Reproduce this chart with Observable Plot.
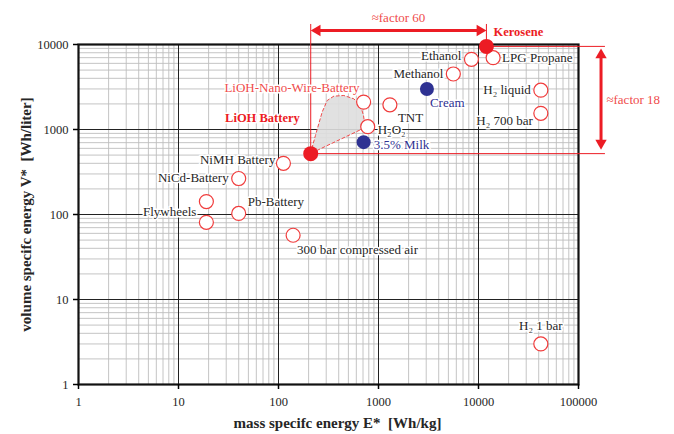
<!DOCTYPE html>
<html>
<head>
<meta charset="utf-8">
<script src="https://cdn.jsdelivr.net/npm/d3@7"></script>
<script src="https://cdn.jsdelivr.net/npm/@observablehq/plot@0.6"></script>
<style>
  html, body { margin: 0; padding: 0; background: white; }
</style>
</head>
<body>
<div id="chart"></div>
<script>
// ---- data ----
const names = ["Kerosene", "LPG Propane", "Ethanol", "Methanol", "Cream", "H₂ liquid", "H₂ 700 bar", "TNT",
  "LiOH-Nano-Wire-Battery", "H₂O₂", "3.5% Milk", "LiOH Battery", "NiMH Battery", "NiCd-Battery",
  "Pb-Battery", "Flywheels", "Flywheels-2", "300 bar compressed air", "H₂ 1 bar"];
const massEnergy = [12000, 14000, 8500, 5600, 3050, 42000, 42000, 1300, 710, 780, 710, 210, 112, 40, 40, 19, 19, 140, 42000];
const volumeEnergy = [9500, 7000, 6700, 4500, 3000, 2900, 1550, 1950, 2100, 1080, 710, 520, 400, 265, 103, 142, 81, 57, 3];
const kinds = ["red", "open", "open", "open", "blue", "open", "open", "open", "open", "open", "blue", "red",
  "open", "open", "open", "open", "open", "open", "open"];
const labels = ["Kerosene", "LPG Propane", "Ethanol", "Methanol", "Cream", "H₂ liquid", "H₂ 700 bar", "TNT",
  "LiOH-Nano-Wire-Battery", "H₂O₂", "3.5% Milk", "LiOH Battery", "NiMH Battery", "NiCd-Battery",
  "Pb-Battery", "Flywheels", null, "300 bar compressed air", "H₂ 1 bar"];

// envelope of LiOH battery region (E, V)
const regionE = [209, 234, 273, 307, 357, 450, 566, 661, 708, 724, 692];
const regionV = [522, 850, 1599, 2194, 2466, 2512, 2297, 1916, 1461, 1209, 1019];

const xTicks = [1, 10, 100, 1000, 10000, 100000];
const yTicks = [1, 10, 100, 1000, 10000];

// ---- layout of labels (anchor, dx, dy, style) ----
const labelLayout = {
  "Kerosene": ["start", 7, -14, "bold"],
  "LPG Propane": ["start", 9, 0],
  "Ethanol": ["end", -10, -3],
  "Methanol": ["end", -10, 0],
  "Cream": ["start", 3, 14, "blue"],
  "H₂ liquid": ["end", -10, 0],
  "H₂ 700 bar": ["end", -8, 8],
  "TNT": ["start", 8, 13],
  "LiOH-Nano-Wire-Battery": ["end", -4, -14, "lightred"],
  "H₂O₂": ["start", 10, 3],
  "3.5% Milk": ["start", 10, 3, "blue"],
  "LiOH Battery": ["end", -11, -36, "bold"],
  "NiMH Battery": ["end", -8, -3],
  "NiCd-Battery": ["end", -10, -1],
  "Pb-Battery": ["start", 9, -12],
  "Flywheels": ["end", -10, 10],
  "300 bar compressed air": ["start", 4, 15],
  "H₂ 1 bar": ["middle", 0, -18]
};

const RED = "#ec1c24", LRED = "#ef4b4b", NAVY = "#2e3192", INK = "#262626";

const rows = names.map((n, i) => ({name: n, E: massEnergy[i], V: volumeEnergy[i], kind: kinds[i], label: labels[i]}));
const region = regionE.map((e, i) => ({E: e, V: regionV[i]}));
const kero = rows.find(d => d.name === "Kerosene");
const lioh = rows.find(d => d.name === "LiOH Battery");

// grid values
const minor = (decades) => decades.flatMap(d => [2,3,4,5,6,7,8,9].map(k => d * k));
const xMinor = minor([1, 10, 100, 1000, 10000]);
const yMinor = minor([1, 10, 100, 1000]);

// annotation anchors (data space)
const topArrowV = 14600, topLineV = 17200, factor60V = 20800;
const rightLineE = 186000, rightArrowE = 168000, factor18E = 190000, factor18V = 2250;
const ahR = 4.2, ahOff = 2 * 0.7776 * ahR;

const labelMarks = rows.filter(d => d.label).map(d => {
  const [anchor, dx, dy, style] = labelLayout[d.label];
  const color = style === "bold" ? RED : style === "blue" ? NAVY : style === "lightred" ? LRED : INK;
  return Plot.text([d], {
    x: "E", y: "V", text: "label", textAnchor: anchor, dx, dy,
    fill: color, fontWeight: style === "bold" ? "bold" : "normal",
    fontSize: style === "bold" ? 12.5 : 13, stroke: "white", strokeWidth: 3, paintOrder: "stroke"
  });
});

const chart = Plot.plot({
  width: 674,
  height: 434,
  marginLeft: 78,
  marginRight: 96,
  marginTop: 44,
  marginBottom: 50,
  style: {fontFamily: "'Liberation Serif', 'DejaVu Serif', serif", fontSize: "12.5px", background: "white", overflow: "visible"},
  x: {type: "log", domain: [1, 100000]},
  y: {type: "log", domain: [1, 10000]},
  marks: [
    Plot.ruleX(xMinor, {stroke: "#bdbdbd", strokeWidth: 0.9}),
    Plot.ruleY(yMinor, {stroke: "#bdbdbd", strokeWidth: 0.9}),
    Plot.ruleX(xTicks, {stroke: "#222", strokeWidth: 1}),
    Plot.ruleY(yTicks, {stroke: "#222", strokeWidth: 1}),
    Plot.frame({stroke: "#111", strokeWidth: 2.2}),
    Plot.axisX({ticks: xTicks, tickFormat: d => String(d), tickSize: 5, tickPadding: 8, strokeWidth: 1.5, label: null, fill: INK}),
    Plot.axisY({ticks: yTicks, tickFormat: d => String(d), tickSize: 5, tickPadding: 5, strokeWidth: 1.5, label: null, fill: INK}),
    // axis titles
    Plot.text(["mass specifc energy E*  [Wh/kg]"], {frameAnchor: "bottom", textAnchor: "middle", lineAnchor: "middle", dx: 9, dy: 39, fontSize: 15, fontWeight: "bold", fill: INK}),
    Plot.text(["volume specifc energy V*  [Wh/liter]"], {frameAnchor: "left", textAnchor: "middle", lineAnchor: "middle", dx: -52, rotate: -90, fontSize: 15, fontWeight: "bold", fill: INK}),
    // LiOH region
    Plot.line(region, {x: "E", y: "V", curve: "linear-closed", fill: "#dedede", fillOpacity: 0.9, stroke: LRED, strokeWidth: 1, strokeDasharray: "3,2.5"}),
    // factor annotations
    Plot.ruleX([lioh], {x: "E", y1: topLineV, y2: "V", stroke: RED, strokeWidth: 1}),
    Plot.ruleX([kero], {x: "E", y1: topLineV, y2: "V", stroke: RED, strokeWidth: 1}),
    Plot.ruleY([kero], {y: "V", x1: "E", x2: rightLineE, stroke: RED, strokeWidth: 1}),
    Plot.ruleY([lioh], {y: "V", x1: "E", x2: rightLineE, stroke: RED, strokeWidth: 1}),
    Plot.arrow([0], {x1: lioh.E, x2: kero.E, y1: topArrowV, y2: topArrowV, headLength: 0, insetStart: 5, insetEnd: 5, stroke: RED, strokeWidth: 3}),
    Plot.dot([0], {x: kero.E, y: topArrowV, symbol: "triangle", r: ahR, fill: RED, rotate: 90, dx: -ahOff}),
    Plot.dot([0], {x: lioh.E, y: topArrowV, symbol: "triangle", r: ahR, fill: RED, rotate: -90, dx: ahOff}),
    Plot.arrow([0], {x1: rightArrowE, x2: rightArrowE, y1: kero.V, y2: lioh.V, headLength: 0, insetStart: 7, insetEnd: 9, stroke: RED, strokeWidth: 3}),
    Plot.dot([0], {x: rightArrowE, y: kero.V, symbol: "triangle", r: ahR, fill: RED, rotate: 0, dy: ahOff + 2}),
    Plot.dot([0], {x: rightArrowE, y: lioh.V, symbol: "triangle", r: ahR, fill: RED, rotate: 180, dy: -ahOff - 4}),
    Plot.text(["≈factor 60"], {x: 1585, y: factor60V, fill: LRED, fontSize: 13}),
    Plot.text(["≈factor 18"], {x: factor18E, y: factor18V, textAnchor: "start", fill: LRED, fontSize: 13}),
    // points
    Plot.dot(rows.filter(d => d.kind === "open"), {x: "E", y: "V", r: 7, fill: "white", stroke: "#f03c3c", strokeWidth: 1.2}),
    Plot.dot(rows.filter(d => d.kind === "blue"), {x: "E", y: "V", r: 7, fill: NAVY}),
    Plot.dot(rows.filter(d => d.kind === "red"), {x: "E", y: "V", r: 7.5, fill: RED}),
    ...labelMarks
  ]
});
document.getElementById("chart").appendChild(chart);
</script>
</body>
</html>
